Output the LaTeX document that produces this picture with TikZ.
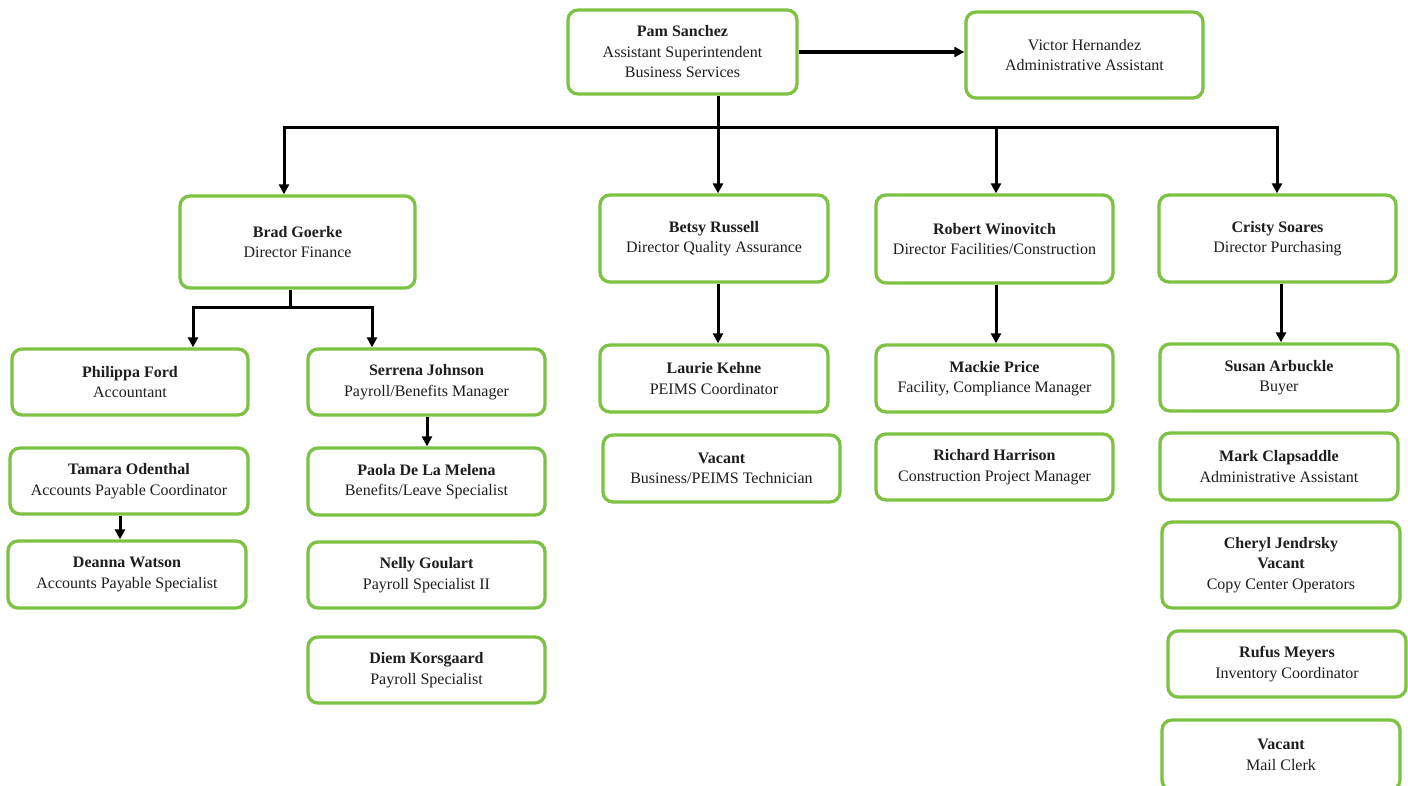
\documentclass[tikz,border=0pt]{standalone}
\usepackage{fontspec}
\setmainfont{Liberation Serif}
\usetikzlibrary{arrows.meta}
\definecolor{boxgreen}{RGB}{125,194,66}
\definecolor{txt}{RGB}{30,30,30}
\tikzset{
  box/.style={draw=boxgreen, line width=3.3pt, rounded corners=10pt, fill=white,
    align=center, text=txt, font=\fontsize{16}{20.5}\selectfont, inner sep=0pt},
  conn/.style={line width=3pt, black},
  arr/.style={conn, -{Triangle[length=10pt,width=10pt]}},
}
\newcommand{\nm}[1]{\textbf{#1}}
\begin{document}
\begin{tikzpicture}[x=1pt,y=-1pt]
\useasboundingbox[fill=white] (0,0) rectangle (1408,786);
% top
\node[box, minimum width=229, minimum height=84] (pam) at (682.5,52) {\nm{Pam Sanchez}\\Assistant Superintendent\\Business Services};
\node[box, minimum width=237, minimum height=86] (victor) at (1084.5,55) {Victor Hernandez\\Administrative Assistant};
% directors
\node[box, minimum width=235, minimum height=92] (brad) at (297.5,242) {\nm{Brad Goerke}\\Director Finance};
\node[box, minimum width=228, minimum height=87] (betsy) at (714,238.5) {\nm{Betsy Russell}\\Director Quality Assurance};
\node[box, minimum width=237, minimum height=88] (robert) at (994.5,239) {\nm{Robert Winovitch}\\Director Facilities/Construction};
\node[box, minimum width=237, minimum height=87] (cristy) at (1277.5,238.5) {\nm{Cristy Soares}\\Director Purchasing};
% finance
\node[box, minimum width=236, minimum height=66] (philippa) at (130,382) {\nm{Philippa Ford}\\Accountant};
\node[box, minimum width=237, minimum height=66] (serrena) at (426.5,382) {\nm{Serrena Johnson}\\Payroll/Benefits Manager};
\node[box, minimum width=238, minimum height=66] (tamara) at (129,481) {\nm{Tamara Odenthal}\\Accounts Payable Coordinator};
\node[box, minimum width=238, minimum height=67] (deanna) at (127,574.5) {\nm{Deanna Watson}\\Accounts Payable Specialist};
\node[box, minimum width=237, minimum height=67] (paola) at (426.5,481.5) {\nm{Paola De La Melena}\\Benefits/Leave Specialist};
\node[box, minimum width=237, minimum height=66] (nelly) at (426.5,575) {\nm{Nelly Goulart}\\Payroll Specialist II};
\node[box, minimum width=237, minimum height=66] (diem) at (426.5,670) {\nm{Diem Korsgaard}\\Payroll Specialist};
% quality
\node[box, minimum width=228, minimum height=67] (laurie) at (714,378.5) {\nm{Laurie Kehne}\\PEIMS Coordinator};
\node[box, minimum width=237, minimum height=67] (vacantq) at (721.5,468.5) {\nm{Vacant}\\Business/PEIMS Technician};
% facilities
\node[box, minimum width=237, minimum height=67] (mackie) at (994.5,378.5) {\nm{Mackie Price}\\Facility, Compliance Manager};
\node[box, minimum width=237, minimum height=66] (richard) at (994.5,467) {\nm{Richard Harrison}\\Construction Project Manager};
% purchasing
\node[box, minimum width=238, minimum height=67] (susan) at (1279,377.5) {\nm{Susan Arbuckle}\\Buyer};
\node[box, minimum width=238, minimum height=67] (mark) at (1279,466.5) {\nm{Mark Clapsaddle}\\Administrative Assistant};
\node[box, minimum width=238, minimum height=86] (cheryl) at (1281,565) {\nm{Cheryl Jendrsky}\\\nm{Vacant}\\Copy Center Operators};
\node[box, minimum width=238, minimum height=66] (rufus) at (1287,664) {\nm{Rufus Meyers}\\Inventory Coordinator};
\node[box, minimum width=238, minimum height=70] (mail) at (1281,755) {\nm{Vacant}\\Mail Clerk};
% coordinates
\coordinate (bc) at (718,128);
\coordinate (bl) at (284,128);
\coordinate (bf) at (996,128);
\coordinate (br) at (1277,128);
\coordinate (fc) at (290,308);
\coordinate (fl) at (193,308);
\coordinate (fr) at (372,308);
\coordinate (xs) at (427,0);
\coordinate (xt) at (120,0);
\coordinate (xq) at (718,0);
\coordinate (xm) at (996,0);
\coordinate (xp) at (1281,0);
% connectors
\draw[arr, line width=4.2pt] (pam.east) -- (victor.west |- pam.east);
\draw[conn] (pam.south -| bc) -- (bc);
\draw[arr] (bc) -| (bl |- brad.north);
\draw[arr] (bc) -| (br |- cristy.north);
\draw[arr] (bc) -- (bc |- betsy.north);
\draw[arr] (bf) -- (bf |- robert.north);
\draw[conn] (brad.south -| fc) -- (fc);
\draw[arr] (fc) -| (fl |- philippa.north);
\draw[arr] (fc) -| (fr |- serrena.north);
\draw[arr] (serrena.south -| xs) -- (paola.north -| xs);
\draw[arr] (tamara.south -| xt) -- (deanna.north -| xt);
\draw[arr] (betsy.south -| xq) -- (laurie.north -| xq);
\draw[arr] (robert.south -| xm) -- (mackie.north -| xm);
\draw[arr] (cristy.south -| xp) -- (susan.north -| xp);
\end{tikzpicture}
\end{document}
